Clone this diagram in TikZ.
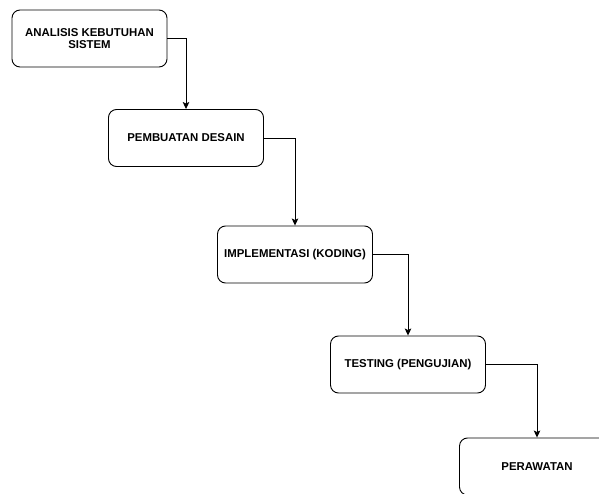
\documentclass[tikz,border=0pt]{standalone}
\usepackage{fontspec}
\setmainfont{Liberation Sans}
\usetikzlibrary{arrows.meta}
\begin{document}
\begin{tikzpicture}[x=1pt,y=-1pt,
  box/.style={draw=black,line width=0.9pt,rounded corners=8pt,minimum width=155pt,minimum height=57pt,inner sep=0pt,align=center,font=\bfseries\fontsize{11.4}{12.5}\selectfont,text=black},
  conn/.style={draw=black,line width=0.9pt,-{Stealth[length=7pt,width=6.5pt,inset=1.5pt]}}]
\useasboundingbox (0,0) rectangle (599,494);
\clip (0,0) rectangle (599,494);
\fill[white] (0,0) rectangle (599,494);
\node[box] (a) at (89.5,38.5) {ANALISIS KEBUTUHAN\\SISTEM};
\node[box] (b) at (186,138) {PEMBUATAN DESAIN};
\node[box] (c) at (295,254.5) {IMPLEMENTASI (KODING)};
\node[box] (d) at (408,364.5) {TESTING (PENGUJIAN)};
\node[box] (e) at (537,466.5) {PERAWATAN};
\draw[conn] (a.east) -| (b.north);
\draw[conn] (b.east) -| (c.north);
\draw[conn] (c.east) -| (d.north);
\draw[conn] (d.east) -| (e.north);
\end{tikzpicture}
\end{document}
